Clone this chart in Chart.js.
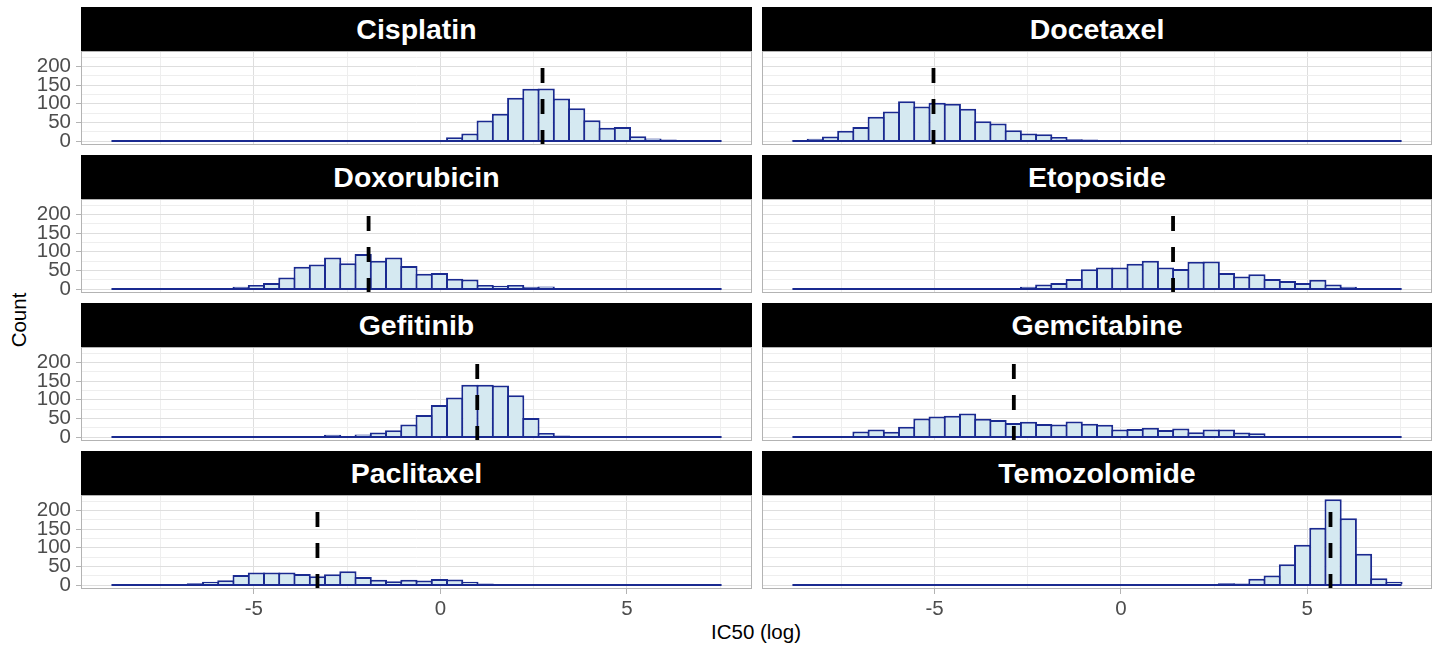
<!DOCTYPE html>
<html>
<head>
<meta charset="utf-8">
<script src="https://cdn.jsdelivr.net/npm/chart.js@4.4.1/dist/chart.umd.min.js"></script>
<style>
html, body { margin:0; padding:0; background:#fff; }
body { width:1439px; height:645px; overflow:hidden; position:relative; font-family:'Liberation Sans', Arial, sans-serif; }
.strip { position:absolute; background:#000; color:#fff; font-weight:bold; font-size:28.5px; display:flex; align-items:center; justify-content:center; z-index:2; }
canvas { position:absolute; }
.axtitle { position:absolute; color:#000; font-size:20.5px; white-space:nowrap; transform:translate(-50%,-50%); }
#ylab { transform:translate(-50%,-50%) rotate(-90deg); }
</style>
</head>
<body>
<div class="axtitle" id="ylab" style="left:19px; top:320px;">Count</div>
<div class="axtitle" id="xlab" style="left:756px; top:632px;">IC50 (log)</div>
<script>
// ---- data ----
const DRUGS = ['Cisplatin', 'Docetaxel', 'Doxorubicin', 'Etoposide', 'Gefitinib', 'Gemcitabine', 'Paclitaxel', 'Temozolomide'];

// histogram bin centres (IC50, log)
const BIN_CENTERS = [-8.609, -8.200, -7.791, -7.382, -6.974, -6.565, -6.156, -5.748, -5.339, -4.930,
                     -4.522, -4.113, -3.704, -3.295, -2.887, -2.478, -2.069, -1.661, -1.252, -0.843,
                     -0.435, -0.026, 0.383, 0.791, 1.200, 1.609, 2.018, 2.426, 2.835, 3.244,
                     3.652, 4.061, 4.470, 4.878, 5.287, 5.696, 6.104, 6.513, 6.922, 7.330];

const COUNTS_CISPLATIN =    [0,0,0,0,0,0,0,0,0,0, 0,0,0,0,0,0,0,0,0,1, 3,3,10,20,55,73,116,140,141,114, 88,56,36,38,13,7,4,1,1,0];
const COUNTS_DOCETAXEL =    [3,6,12,28,38,65,79,107,93,103, 100,87,53,47,29,20,18,11,5,4, 2,0,0,0,0,0,0,0,0,0, 0,0,0,0,0,0,0,0,0,0];
const COUNTS_DOXORUBICIN =  [0,0,0,0,0,0,0,1,6,11, 16,31,60,66,85,69,94,76,85,62, 41,43,28,26,11,9,11,6,7,3, 2,0,0,0,0,0,0,0,0,0];
const COUNTS_ETOPOSIDE =    [0,0,0,0,0,0,0,0,0,0, 0,2,1,1,3,6,12,16,27,53, 58,58,68,76,58,54,73,74,43,34, 40,27,22,16,25,12,6,3,2,1];
const COUNTS_GEFITINIB =    [0,0,0,0,0,0,0,0,0,0, 1,1,0,3,6,3,7,12,18,34, 59,86,106,140,140,138,112,51,11,4, 2,0,0,0,0,0,0,0,0,0];
const COUNTS_GEMCITABINE =  [0,0,0,3,15,20,14,28,50,55, 57,63,49,46,38,41,35,34,42,36, 33,20,22,25,19,23,13,20,20,12, 10,0,0,0,0,0,0,0,0,0];
const COUNTS_PACLITAXEL =   [0,0,0,0,0,5,9,13,27,34, 34,34,30,24,29,37,22,14,10,14, 12,16,15,9,4,3,1,2,1,0, 0,0,0,0,0,0,0,0,0,0];
const COUNTS_TEMOZOLOMIDE = [0,0,0,0,0,0,0,0,0,0, 0,0,0,0,0,0,0,0,0,0, 0,0,0,0,1,0,1,2,5,4, 17,26,56,108,154,230,179,84,18,9];

const MEDIANS = [2.737, -5.028, -1.924, 1.401, 0.988, -2.872, -3.294, 5.626];

const X_TICKS = [-7.5, -5, -2.5, 0, 2.5, 5, 7.5];
const Y_TICKS = [0, 25, 50, 75, 100, 125, 150, 175, 200, 225];
const X_LIMITS = [-9.63, 8.35];
const Y_LIMITS = [-10.5, 241.5];

const SERIES = [COUNTS_CISPLATIN, COUNTS_DOCETAXEL, COUNTS_DOXORUBICIN, COUNTS_ETOPOSIDE,
                COUNTS_GEFITINIB, COUNTS_GEMCITABINE, COUNTS_PACLITAXEL, COUNTS_TEMOZOLOMIDE];

// ---- styling / layout ----
const FILL = '#d5e9f1';
const LINE = '#1a2a90';
const LINE_W = 2;
const GRID_MAJOR = '#dedede';
const GRID_MINOR = '#eeeeee';
const BORDER = '#b3b3b3';
const TICK_TEXT = '#4d4d4d';
Chart.defaults.font.family = "'Liberation Sans', Arial, sans-serif";

const COLS = [{ left: 81, right: 752, cLeft: 0, cRight: 772 }, { left: 762, right: 1432, cLeft: 752, cRight: 1439 }];
const PANEL_TOPS = [51, 199, 347, 495];
const PANEL_H = 94;
const STRIP_H = 44;

const panelBorder = {
  id: 'panelBorder',
  afterDraw(chart) {
    const a = chart.chartArea, ctx = chart.ctx;
    ctx.save();
    ctx.strokeStyle = BORDER;
    ctx.lineWidth = 1;
    ctx.strokeRect(a.left + 0.5, a.top + 0.5, a.right - a.left - 1, a.bottom - a.top - 1);
    ctx.restore();
  }
};

const isMult = (v, m) => Math.abs(v / m - Math.round(v / m)) < 1e-9;
const tickIsMajor = (c, m) => !!(c && c.tick && isMult(c.tick.value, m));

DRUGS.forEach((name, k) => {
  const col = k % 2, row = Math.floor(k / 2);
  const C = COLS[col];
  const top = PANEL_TOPS[row];
  const bottomRow = row === 3, leftCol = col === 0;

  const strip = document.createElement('div');
  strip.className = 'strip';
  strip.textContent = name;
  Object.assign(strip.style, { left: C.left + 'px', top: (top - STRIP_H) + 'px', width: (C.right - C.left) + 'px', height: STRIP_H + 'px' });
  document.body.appendChild(strip);

  const padTop = 20, padBottom = bottomRow ? 0 : 20, xAxisH = bottomRow ? 40 : 0;
  const canvas = document.createElement('canvas');
  const cw = C.cRight - C.cLeft, ch = padTop + PANEL_H + padBottom + xAxisH;
  canvas.width = cw; canvas.height = ch;
  Object.assign(canvas.style, { left: C.cLeft + 'px', top: (top - padTop) + 'px', width: cw + 'px', height: ch + 'px' });
  document.body.appendChild(canvas);

  const yAxisW = C.left - C.cLeft;
  const plotW = C.right - C.left;
  const binPx = (BIN_CENTERS[1] - BIN_CENTERS[0]) * plotW / (X_LIMITS[1] - X_LIMITS[0]);
  const edgeL = BIN_CENTERS[0] - (BIN_CENTERS[1] - BIN_CENTERS[0]) / 2;
  const edgeR = BIN_CENTERS[BIN_CENTERS.length - 1] + (BIN_CENTERS[1] - BIN_CENTERS[0]) / 2;

  new Chart(canvas, {
    type: 'bar',
    data: {
      datasets: [
        {
          type: 'line', order: 0,
          data: [{ x: MEDIANS[k], y: Y_LIMITS[0] }, { x: MEDIANS[k], y: Y_LIMITS[1] }],
          borderColor: '#000', borderWidth: 3.8, borderDash: [15, 16], pointRadius: 0, clip: 0
        },
        {
          type: 'line', order: 1,
          data: [{ x: edgeL, y: 0 }, { x: edgeR, y: 0 }],
          borderColor: LINE, borderWidth: LINE_W, pointRadius: 0
        },
        {
          type: 'bar', order: 2,
          data: BIN_CENTERS.map((x, i) => ({ x: x, y: SERIES[k][i] })),
          backgroundColor: FILL, borderColor: LINE, borderWidth: LINE_W, borderSkipped: 'start',
          categoryPercentage: 1, barPercentage: 1 + LINE_W / binPx, inflateAmount: 0
        }
      ]
    },
    options: {
      responsive: false, animation: false, devicePixelRatio: 1,
      layout: { padding: { top: padTop, bottom: padBottom, left: 0, right: C.cRight - C.right } },
      plugins: { legend: { display: false }, tooltip: { enabled: false } },
      scales: {
        x: {
          type: 'linear', min: X_LIMITS[0], max: X_LIMITS[1], offset: false,
          afterBuildTicks: s => { s.ticks = X_TICKS.map(v => ({ value: v })); },
          afterFit: s => { s.height = xAxisH; },
          border: { display: false },
          grid: {
            offset: false,
            color: c => tickIsMajor(c, 5) ? GRID_MAJOR : GRID_MINOR,
            lineWidth: 1,
            drawTicks: bottomRow, tickLength: 5, tickWidth: 1,
            tickColor: c => tickIsMajor(c, 5) ? BORDER : 'rgba(0,0,0,0)'
          },
          ticks: {
            display: bottomRow, autoSkip: false, maxRotation: 0, padding: 3,
            color: TICK_TEXT, font: { size: 20.5 },
            callback: v => isMult(v, 5) ? String(v) : ''
          }
        },
        y: {
          type: 'linear', min: Y_LIMITS[0], max: Y_LIMITS[1],
          afterBuildTicks: s => { s.ticks = Y_TICKS.map(v => ({ value: v })); },
          afterFit: s => { s.width = yAxisW; },
          border: { display: false },
          grid: {
            color: c => tickIsMajor(c, 50) ? GRID_MAJOR : GRID_MINOR,
            lineWidth: 1,
            drawTicks: leftCol, tickLength: 5, tickWidth: 1,
            tickColor: c => tickIsMajor(c, 50) ? BORDER : 'rgba(0,0,0,0)'
          },
          ticks: {
            display: leftCol, autoSkip: false, padding: 5,
            color: TICK_TEXT, font: { size: 20.5 },
            callback: v => isMult(v, 50) ? String(v) : ''
          }
        }
      }
    },
    plugins: [panelBorder]
  });
});
</script>
</body>
</html>
